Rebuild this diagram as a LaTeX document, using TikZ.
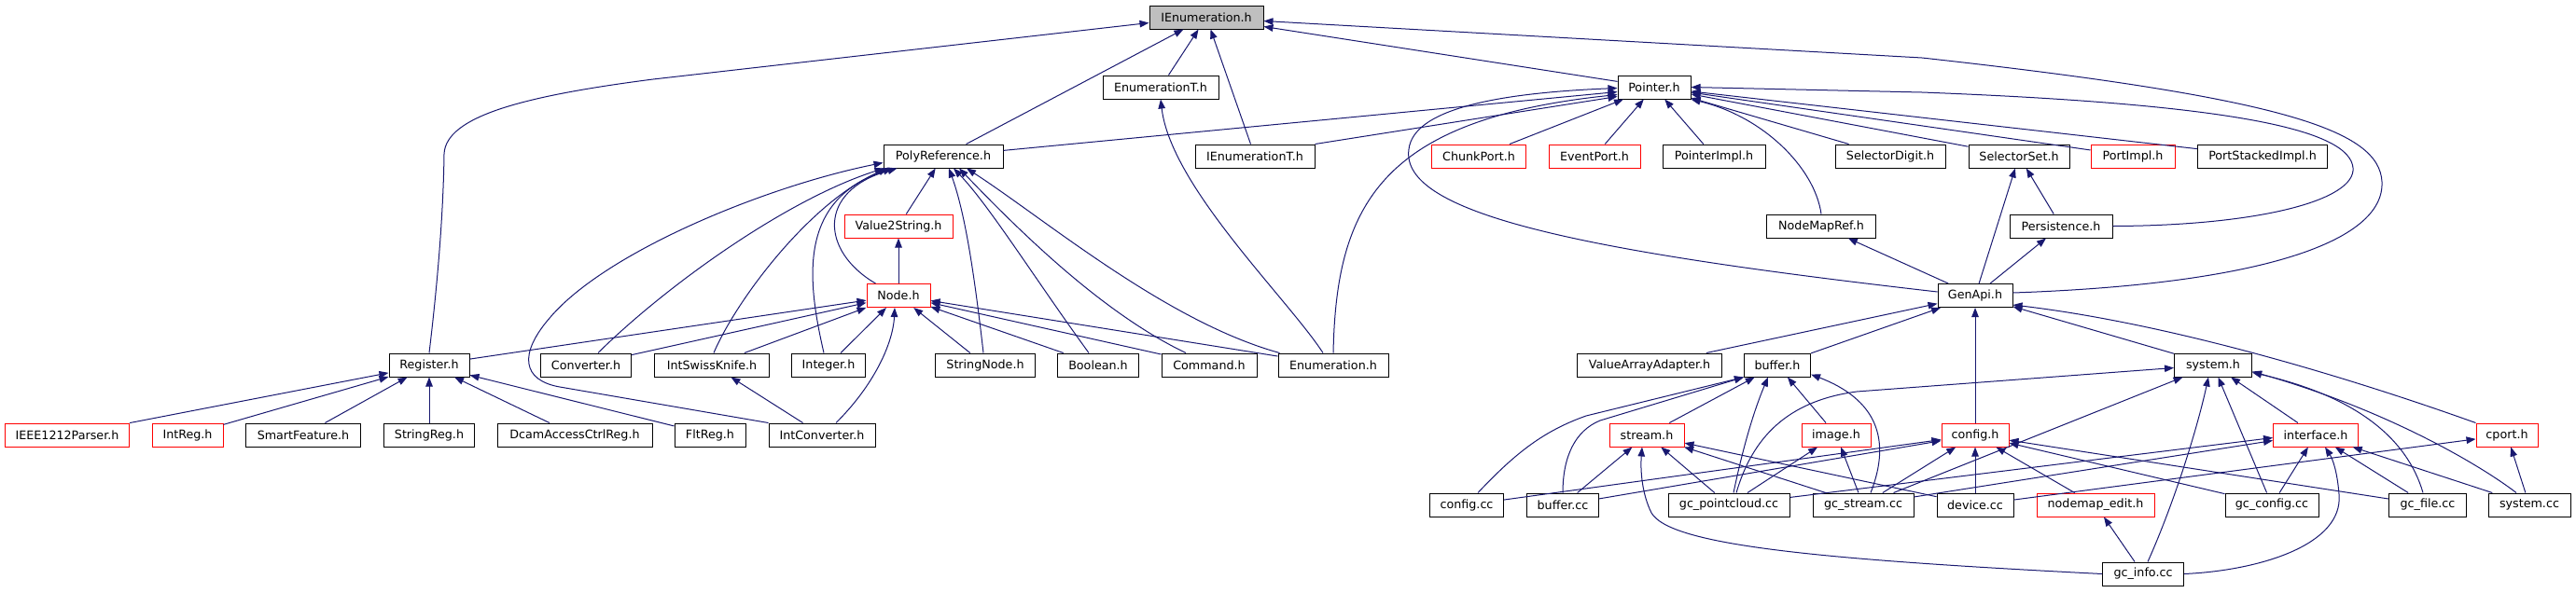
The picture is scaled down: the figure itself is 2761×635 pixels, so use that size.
\documentclass[tikz,border=0pt]{standalone}
\usepackage{fontspec}
\setmainfont{DejaVu Sans}
\usetikzlibrary{arrows.meta,calc}
\definecolor{mblue}{HTML}{191970}
\definecolor{rootgray}{HTML}{BFBFBF}
\begin{document}
\begin{tikzpicture}[x=1pt,y={(0pt,-1pt)},
  nb/.style={draw=black, line width=1pt, fill=white, minimum height=25pt, inner sep=0pt,
             font=\fontsize{12.7}{15}\selectfont, text=black},
  nr/.style={nb, draw=red},
  root/.style={nb, fill=rootgray},
  edge/.style={draw=mblue, line width=1pt, -{Triangle[length=10pt,width=7.5pt]}}]
\useasboundingbox (0,0) rectangle (2761,635);
% row 0
\node[root, minimum width=122pt] (IEnum) at (1293,18.5) {IEnumeration.h};
% row 1
\node[nb, minimum width=124pt] (EnumT) at (1244,93.5) {EnumerationT.h};
\node[nb, minimum width=78pt] (Pointer) at (1773,93.5) {Pointer.h};
% row 2
\node[nb, minimum width=128pt] (PolyRef) at (1011,167.5) {PolyReference.h};
\node[nb, minimum width=128pt] (IEnumT) at (1345,167.5) {IEnumerationT.h};
\node[nr, minimum width=101pt] (ChunkPort) at (1585,167.5) {ChunkPort.h};
\node[nr, minimum width=98pt] (EventPort) at (1709,167.5) {EventPort.h};
\node[nb, minimum width=110pt] (PointerImpl) at (1837,167.5) {PointerImpl.h};
\node[nb, minimum width=118pt] (SelDigit) at (2026,167.5) {SelectorDigit.h};
\node[nb, minimum width=108pt] (SelSet) at (2164,167.5) {SelectorSet.h};
\node[nr, minimum width=90pt] (PortImpl) at (2286,167.5) {PortImpl.h};
\node[nb, minimum width=139pt] (PortStacked) at (2425,167.5) {PortStackedImpl.h};
% row 3
\node[nr, minimum width=116pt] (V2S) at (963,242.5) {Value2String.h};
\node[nb, minimum width=117pt] (NodeMapRef) at (1952,242.5) {NodeMapRef.h};
\node[nb, minimum width=110pt] (Persist) at (2209,242.5) {Persistence.h};
% row 4
\node[nr, minimum width=68pt] (NodeH) at (963,317) {Node.h};
\node[nb, minimum width=80pt] (GenApi) at (2117,317) {GenApi.h};
% row 5
\node[nb, minimum width=86pt] (Register) at (460,391.5) {Register.h};
\node[nb, minimum width=97pt] (Converter) at (628,391.5) {Converter.h};
\node[nb, minimum width=123pt] (SwissKnife) at (763,391.5) {IntSwissKnife.h};
\node[nb, minimum width=79pt] (Integer) at (888,391.5) {Integer.h};
\node[nb, minimum width=107pt] (StringNode) at (1056,391.5) {StringNode.h};
\node[nb, minimum width=87pt] (Boolean) at (1177,391.5) {Boolean.h};
\node[nb, minimum width=102pt] (Command) at (1296,391.5) {Command.h};
\node[nb, minimum width=118pt] (Enumeration) at (1429,391.5) {Enumeration.h};
\node[nb, minimum width=155pt] (VAA) at (1768,391.5) {ValueArrayAdapter.h};
\node[nb, minimum width=71pt] (bufferh) at (1905,391.5) {buffer.h};
\node[nb, minimum width=83pt] (systemh) at (2372,391.5) {system.h};
% row 6
\node[nr, minimum width=133pt] (IEEE) at (72,466.5) {IEEE1212Parser.h};
\node[nr, minimum width=76pt] (IntReg) at (201,466.5) {IntReg.h};
\node[nb, minimum width=123pt] (SmartF) at (325,466.5) {SmartFeature.h};
\node[nb, minimum width=97pt] (StringReg) at (460,466.5) {StringReg.h};
\node[nb, minimum width=166pt] (Dcam) at (616,466.5) {DcamAccessCtrlReg.h};
\node[nb, minimum width=76pt] (FltReg) at (761,466.5) {FltReg.h};
\node[nb, minimum width=114pt] (IntConv) at (881,466.5) {IntConverter.h};
\node[nr, minimum width=80pt] (streamh) at (1765,466.5) {stream.h};
\node[nr, minimum width=74pt] (imageh) at (1968,466.5) {image.h};
\node[nr, minimum width=72pt] (configh) at (2117,466.5) {config.h};
\node[nr, minimum width=91pt] (interfaceh) at (2482,466.5) {interface.h};
\node[nr, minimum width=66pt] (cporth) at (2687,466.5) {cport.h};
% row 7
\node[nb, minimum width=79pt] (configcc) at (1572,541.5) {config.cc};
\node[nb, minimum width=77pt] (buffercc) at (1675,541.5) {buffer.cc};
\node[nb, minimum width=130pt] (gcpc) at (1853,541.5) {gc\_pointcloud.cc};
\node[nb, minimum width=108pt] (gcstream) at (1997,541.5) {gc\_stream.cc};
\node[nb, minimum width=82pt] (devicecc) at (2117,541.5) {device.cc};
\node[nr, minimum width=126pt] (nodemap) at (2246,541.5) {nodemap\_edit.h};
\node[nb, minimum width=100pt] (gcconfig) at (2435,541.5) {gc\_config.cc};
\node[nb, minimum width=83pt] (gcfile) at (2602,541.5) {gc\_file.cc};
\node[nb, minimum width=88pt] (systemcc) at (2711,541.5) {system.cc};
% row 8
\node[nb, minimum width=87pt] (gcinfo) at (2297,615.5) {gc\_info.cc};

% ---- edges to IEnumeration.h
\draw[edge] (Register.north) .. controls (467,320) and (475,240) .. (476,165) .. controls (478,125) and (560,103) .. (700,85) -- ($(IEnum.west)+(0,6)$);
\draw[edge] (PolyRef) -- (IEnum);
\draw[edge] (EnumT) -- (IEnum);
\draw[edge] (IEnumT) -- (IEnum);
\draw[edge] (Pointer) -- ($(IEnum.east)+(0,10)$);
\draw[edge] ($(GenApi.east)+(0,-3)$) .. controls (2420,305) and (2556,260) .. (2553,195) .. controls (2550,140) and (2450,105) .. (2060,62) -- ($(IEnum.east)+(0,4)$);
% ---- EnumerationT.h
\draw[edge] ($(Enumeration.north)+(-11,0)$) .. controls (1380,320) and (1255,200) .. (EnumT.south);
% ---- Pointer.h
\draw[edge] (PolyRef) -- ($(Pointer.west)+(0,5)$);
\draw[edge] (IEnumT.north east) -- ($(Pointer.west)+(0,10)$);
\draw[edge] (Enumeration.north) .. controls (1432,220) and (1480,128) .. ($(Pointer.west)+(0,8)$);
\draw[edge] ($(GenApi.west)+(0,-4)$) .. controls (1700,270) and (1500,230) .. (1510,160) .. controls (1515,118) and (1600,100) .. ($(Pointer.west)+(0,1)$);
\draw[edge] (ChunkPort) -- (Pointer);
\draw[edge] (EventPort) -- (Pointer);
\draw[edge] (PointerImpl) -- (Pointer);
\draw[edge] (NodeMapRef.north) .. controls (1945,180) and (1890,125) .. (Pointer.south east);
\draw[edge] (SelDigit) -- (Pointer);
\draw[edge] (SelSet) -- (Pointer);
\draw[edge] (PortImpl) -- (Pointer);
\draw[edge] (PortStacked) -- (Pointer);
\draw[edge] (Persist.east) .. controls (2420,242) and (2525,215) .. (2522,180) .. controls (2518,140) and (2400,112) .. (2060,99) -- (Pointer.east);
% ---- GenApi group
\draw[edge] (GenApi) -- (NodeMapRef);
\draw[edge] (GenApi) -- (SelSet);
\draw[edge] (GenApi) -- (Persist);
\draw[edge] (Persist) -- (SelSet);
% ---- PolyReference.h
\draw[edge] (IntConv.north west) -- (600,415) .. controls (560,408) and (555,380) .. (590,340) .. controls (650,270) and (820,200) .. ($(PolyRef.west)+(0,7)$);
\draw[edge] ($(Converter.north)+(13,0)$) .. controls (710,310) and (840,215) .. ($(PolyRef.south west)+(1,0)$);
\draw[edge] ($(SwissKnife.north)+(2,0)$) .. controls (790,320) and (870,215) .. ($(PolyRef.south west)+(5,0)$);
\draw[edge] ($(Integer.north)+(-5,0)$) .. controls (865,300) and (855,215) .. ($(PolyRef.south west)+(10,0)$);
\draw[edge] ($(NodeH.north west)+(10,0)$) .. controls (880,270) and (875,205) .. ($(PolyRef.south west)+(15,0)$);
\draw[edge] (NodeH) -- (V2S);
\draw[edge] (V2S) -- (PolyRef);
\draw[edge] ($(StringNode.north)+(-2,0)$) .. controls (1045,300) and (1035,230) .. ($(PolyRef.south)+(6,0)$);
\draw[edge] ($(Boolean.north)+(-10,0)$) .. controls (1110,300) and (1060,220) .. ($(PolyRef.south)+(11,0)$);
\draw[edge] ($(Command.north)+(-25,0)$) .. controls (1180,335) and (1090,245) .. ($(PolyRef.south)+(17,0)$);
\draw[edge] ($(Enumeration.north west)+(2,0)$) .. controls (1250,345) and (1120,235) .. ($(PolyRef.south)+(25,0)$);
% ---- Node.h
\draw[edge] (Register) -- (NodeH);
\draw[edge] (Converter) -- (NodeH);
\draw[edge] (SwissKnife) -- (NodeH);
\draw[edge] (Integer) -- (NodeH);
\draw[edge] ($(IntConv.north)+(15,0)$) .. controls (935,415) and (957,370) .. ($(NodeH.south)+(-4,0)$);
\draw[edge] (StringNode) -- (NodeH);
\draw[edge] (Boolean) -- (NodeH);
\draw[edge] (Command) -- (NodeH);
\draw[edge] (Enumeration) -- (NodeH);
% ---- Register.h
\draw[edge] (IEEE) -- (Register);
\draw[edge] (IntReg) -- (Register);
\draw[edge] (SmartF) -- (Register);
\draw[edge] (StringReg) -- (Register);
\draw[edge] (Dcam) -- (Register);
\draw[edge] (FltReg) -- (Register);
\draw[edge] (IntConv) -- (SwissKnife);
% ---- GenApi.h incoming (bottom)
\draw[edge] (VAA) -- (GenApi);
\draw[edge] (bufferh) -- (GenApi);
\draw[edge] (configh) -- (GenApi);
\draw[edge] (systemh) -- (GenApi);
\draw[edge] (cporth.north west) .. controls (2560,420) and (2350,350) .. ($(GenApi.east)+(0,10)$);
% ---- buffer.h
\draw[edge] ($(configcc.north)+(12,0)$) .. controls (1625,485) and (1655,462) .. (1700,446) -- (bufferh.south west);
\draw[edge] (buffercc.north) .. controls (1675,490) and (1688,462) .. (1715,451) -- (bufferh.south west);
\draw[edge] (streamh) -- (bufferh);
\draw[edge] ($(gcpc.north)+(5,0)$) .. controls (1868,480) and (1880,440) .. ($(bufferh.south)+(-10,0)$);
\draw[edge] (imageh) -- (bufferh);
\draw[edge] ($(gcstream.north)+(8,0)$) .. controls (2028,470) and (2010,428) .. ($(bufferh.south east)+(0,-3)$);
% ---- stream.h
\draw[edge] (buffercc) -- (streamh);
\draw[edge] (gcpc) -- (streamh);
\draw[edge] (gcstream) -- (streamh);
\draw[edge] (devicecc) -- (streamh);
\draw[edge] (gcinfo.west) .. controls (1950,600) and (1790,585) .. (1770,550) .. controls (1760,530) and (1758,505) .. ($(streamh.south)+(-5,0)$);
% ---- image.h
\draw[edge] (gcpc) -- (imageh);
\draw[edge] (gcstream) -- (imageh);
% ---- config.h
\draw[edge] (configcc) -- (configh);
\draw[edge] (buffercc) -- (configh);
\draw[edge] (gcstream) -- (configh);
\draw[edge] (devicecc) -- (configh);
\draw[edge] (nodemap) -- (configh);
\draw[edge] (gcconfig) -- (configh);
\draw[edge] (gcfile) -- (configh);
% ---- system.h
\draw[edge] ($(gcpc.north)+(8,0)$) .. controls (1878,470) and (1915,430) .. (1990,420) -- ($(systemh.west)+(0,3)$);
\draw[edge] (gcstream) -- (systemh);
\draw[edge] ($(gcinfo.north)+(5,0)$) .. controls (2330,540) and (2355,460) .. ($(systemh.south)+(-5,0)$);
\draw[edge] (gcconfig) -- (systemh);
\draw[edge] (interfaceh) -- (systemh);
\draw[edge] ($(gcfile.north)+(-5,0)$) .. controls (2580,470) and (2525,425) .. ($(systemh.east)+(0,8)$);
\draw[edge] ($(systemcc.north)+(-14,0)$) .. controls (2660,500) and (2560,440) .. ($(systemh.east)+(0,7)$);
% ---- interface.h
\draw[edge] (gcpc) -- ($(interfaceh.west)+(0,3)$);
\draw[edge] (gcstream) -- ($(interfaceh.west)+(0,6)$);
\draw[edge] (gcconfig) -- (interfaceh);
\draw[edge] (gcinfo.east) .. controls (2420,612) and (2512,585) .. (2507,530) .. controls (2505,505) and (2500,492) .. ($(interfaceh.south)+(10,0)$);
\draw[edge] (gcfile) -- (interfaceh);
\draw[edge] (systemcc) -- (interfaceh);
% ---- cport.h
\draw[edge] (devicecc) -- (cporth);
\draw[edge] (systemcc) -- (cporth);
% ---- nodemap_edit.h
\draw[edge] (gcinfo) -- (nodemap);
\end{tikzpicture}
\end{document}
